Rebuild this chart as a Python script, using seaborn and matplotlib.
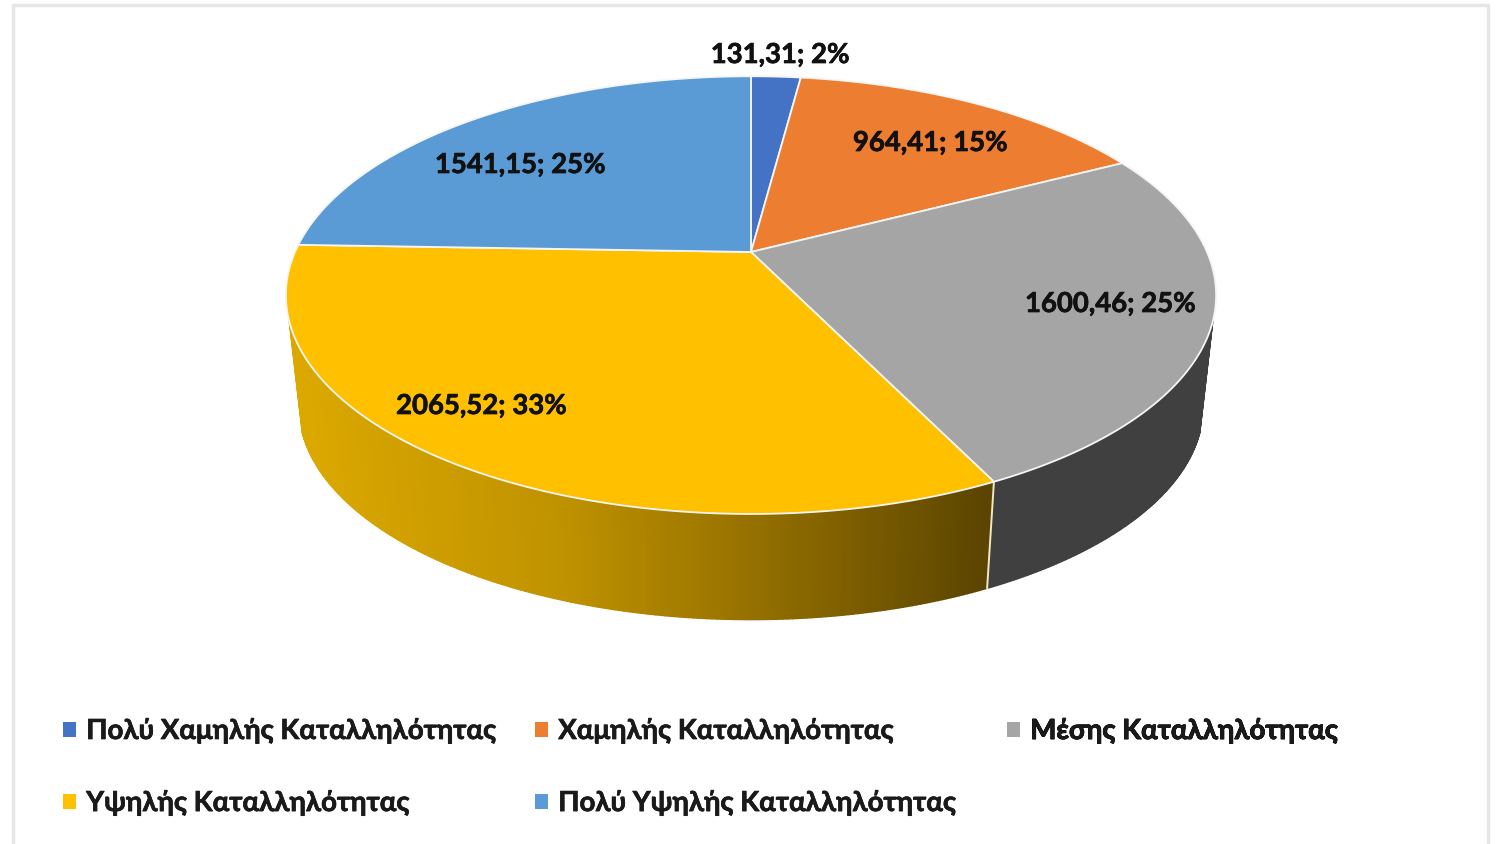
import numpy as np
import matplotlib
matplotlib.use("Agg")
import matplotlib.pyplot as plt
import matplotlib.patheffects as pe
from matplotlib.colors import LinearSegmentedColormap
from matplotlib.patches import Patch
import seaborn as sns

categories = ["Πολύ Χαμηλής Καταλληλότητας", "Χαμηλής Καταλληλότητας", "Μέσης Καταλληλότητας",
              "Υψηλής Καταλληλότητας", "Πολύ Υψηλής Καταλληλότητας"]
values = [131.31, 964.41, 1600.46, 2065.52, 1541.15]
labels = ["131,31; 2%", "964,41; 15%", "1600,46; 25%", "2065,52; 33%", "1541,15; 25%"]
colors = ["#4472C4", "#ED7D31", "#A5A5A5", "#FFC000", "#5B9BD5"]

sns.set_theme(style="white")
plt.rcParams["font.family"] = ["Lato", "Noto Sans", "DejaVu Sans"]

W, H = 1496, 845
fig = plt.figure(figsize=(W / 100, H / 100), dpi=100, facecolor="white")
ax = fig.add_axes([0, 0, 1, 1])
ax.set_xlim(0, W)
ax.set_ylim(H, 0)
ax.axis("off")

# card outline
ax.plot([13, 13, 1488, 1488], [H, 6, 6, H], color="#E6E6E6", lw=2.5, zorder=0)

CX, CY = 751, 253
PK, PA, PC = 456.0, 160.5, 0.197
SCALE, BOTTOM_Y = 0.972, 366


def top_pt(deg):
    t = np.radians(deg)
    x, y = np.sin(t), np.cos(t)
    d = 1 + PC * y
    return CX + PK * x / d, (CY - PA * y) / d


def bottom_pt(deg):
    px, py = top_pt(deg)
    return CX + (px - CX) * SCALE, BOTTOM_Y + (py - CY) * SCALE


edges = np.concatenate([[0], np.cumsum(values)]) / np.sum(values) * 360

# side wall: gold gradient runs with x, grey is flat
gold = LinearSegmentedColormap.from_list(
    "gold", [(0, "#DBA800"), (0.38, "#BF9200"), (0.65, "#977200"), (1, "#5C4500")])
for i in (2, 3):
    a0, a1 = edges[i], edges[i + 1]
    grid = np.linspace(max(a0, 108), min(a1, 252), 200)
    for s0, s1 in zip(grid[:-1], grid[1:]):
        x0, y0 = top_pt(s0)
        x1, y1 = top_pt(s1)
        x2, y2 = bottom_pt(s1)
        x3, y3 = bottom_pt(s0)
        mid = (x0 + x1) / 2
        col = "#404040" if i == 2 else gold(np.clip((mid - 300) / 685, 0, 1))
        ax.fill([x0, x1, x2, x3], [y0, y1, y2, y3], color=col, lw=1.0, zorder=1)
# bright seam on the boundary between the two walls
x0, y0 = top_pt(edges[3])
x1, y1 = bottom_pt(edges[3])
ax.plot([x0, x1], [y0, y1], color="#F2E8C8", lw=1.4, zorder=2)

# top face
for i, col in enumerate(colors):
    arc = np.linspace(edges[i], edges[i + 1], 200)
    px, py = top_pt(arc)
    ax.fill(np.r_[CX, px], np.r_[CY, py], facecolor=col, edgecolor="#F5F5F5", lw=1.3,
            joinstyle="round", zorder=3)

# data labels
label_pos = [(780, 56), (930, 144), (1110, 305), (481, 407), (520, 166)]
thicken = [pe.withStroke(linewidth=0.5, foreground="#111111")]
for text, (lx, ly) in zip(labels, label_pos):
    ax.text(lx, ly, text, ha="center", va="center", fontsize=19.8, fontweight="bold",
            color="#111111", zorder=5, path_effects=thicken)

# legend: three columns anchored at fixed pixel positions
columns = [((63, 718), [0, 3]), ((535, 718), [1, 4]), ((1007, 718), [2])]
for (ax_x, ax_y), idxs in columns:
    handles = [Patch(facecolor=colors[k], edgecolor="none", label=categories[k]) for k in idxs]
    leg = ax.legend(handles=handles, loc="upper left", bbox_to_anchor=(ax_x / W, 1 - ax_y / H),
                    bbox_transform=fig.transFigure, frameon=False, borderaxespad=0, borderpad=0,
                    prop={"size": 19.9, "weight": "bold"}, labelcolor="#1A1A1A",
                    handlelength=0.47, handleheight=0.47, handletextpad=0.37, labelspacing=1.63)
    for t in leg.get_texts():
        t.set_path_effects(thicken)
    leg.set_zorder(6)
    ax.add_artist(leg)

fig.savefig("out.png", dpi=100, facecolor="white")
